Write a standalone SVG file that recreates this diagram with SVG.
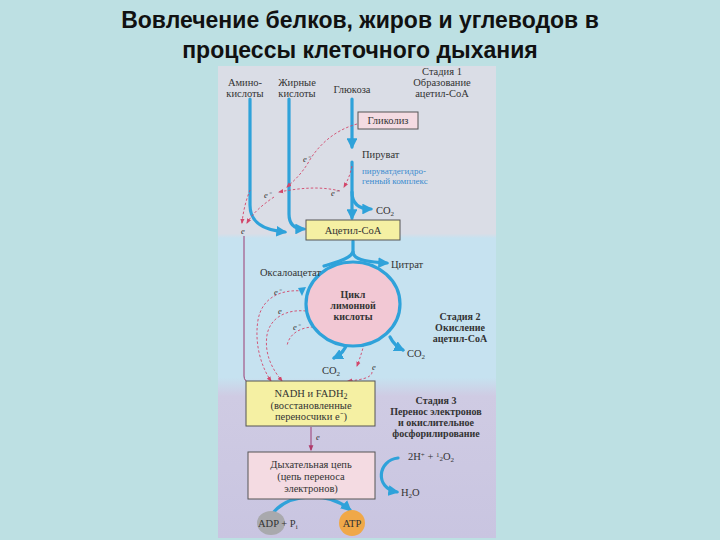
<svg xmlns="http://www.w3.org/2000/svg" width="720" height="540" viewBox="0 0 720 540">
<defs>
<linearGradient id="panelGrad" x1="0" y1="0" x2="0" y2="1">
<stop offset="0" stop-color="#dadde6"/>
<stop offset="0.355" stop-color="#dadde6"/>
<stop offset="0.365" stop-color="#c6e2f0"/>
<stop offset="0.66" stop-color="#c6e2f0"/>
<stop offset="0.70" stop-color="#cfcbe3"/>
<stop offset="1" stop-color="#c9c5e1"/>
</linearGradient>
<marker id="ab" viewBox="0 0 10 10" refX="8" refY="5" markerWidth="3.4" markerHeight="3.4" orient="auto"><path d="M0,0 L10,5 L0,10 z" fill="#2fa2da"/></marker>
<marker id="ar" viewBox="0 0 10 10" refX="8" refY="5" markerWidth="6" markerHeight="6" orient="auto"><path d="M0,1 L10,5 L0,9 z" fill="#d2466a"/></marker>
<marker id="ap" viewBox="0 0 10 10" refX="8" refY="5" markerWidth="6" markerHeight="6" orient="auto"><path d="M0,1 L10,5 L0,9 z" fill="#b03a6a"/></marker>
</defs>
<style>
.title{font-family:"Liberation Sans",Arial,sans-serif;font-weight:bold;font-size:23px;fill:#111;text-anchor:middle}
.t{font-family:"Liberation Serif","Times New Roman",serif;font-size:10.5px;fill:#333}
.tc{font-family:"Liberation Serif","Times New Roman",serif;font-size:10.5px;fill:#333;text-anchor:middle}
.tb{font-family:"Liberation Serif","Times New Roman",serif;font-size:10px;font-weight:bold;fill:#333;text-anchor:middle}
.tblue{font-family:"Liberation Serif","Times New Roman",serif;font-size:9px;fill:#3a8ccf}
.e{font-family:"Liberation Serif","Times New Roman",serif;font-size:8.5px;font-style:italic;fill:#333}
.blue{fill:none;stroke:#2fa2da;stroke-width:3.2;stroke-linecap:round}
.red{fill:none;stroke:#d2466a;stroke-width:0.9;stroke-dasharray:2.5,2}
.pur{fill:none;stroke:#9a3a72;stroke-width:1}
.ybox{fill:#f5f0a3;stroke:#555;stroke-width:1}
.pbox{fill:#f4dbe2;stroke:#555;stroke-width:1}
</style>
<rect width="720" height="540" fill="#bde0e3"/>
<rect id="panel" x="218" y="66" width="278" height="472" fill="url(#panelGrad)"/>
<text class="title" x="360" y="28">Вовлечение белков, жиров и углеводов в</text>
<text class="title" x="360" y="58">процессы клеточного дыхания</text>

<g id="connectors">
<path class="blue" d="M250,99 V205 C250,222 262,230 285,232" marker-end="url(#ab)"/>
<path class="blue" d="M289,99 V214 C289,225 295,229 304,229" marker-end="url(#ab)"/>
<path class="blue" d="M352,99 V147" marker-end="url(#ab)"/>
<path class="blue" d="M352,162 V218" marker-end="url(#ab)"/>
<path class="blue" d="M352,192 C352,205 360,209 371,209" marker-end="url(#ab)"/>
<path class="blue" d="M353,241 V252 C353,259 365,262 387,263" marker-end="url(#ab)"/>
<path class="blue" d="M353,252 C350,259 336,262 324,266"/>
<path class="blue" d="M347,343 C345,351 340,355 334,358" marker-end="url(#ab)"/>
<path class="blue" d="M390,337 C393,343 397,347 403,350" marker-end="url(#ab)"/>
<path class="blue" d="M398,458 C378,460 374,488 397,492" marker-end="url(#ab)"/>
<path class="blue" d="M273,513 C290,492 330,492 350,510" marker-end="url(#ab)"/>
<path class="red" d="M357,124 C335,130 318,145 308,163 C302,173 295,180 287,187" marker-end="url(#ar)"/>
<path class="red" d="M352,166 C350,175 348,180 344,187" marker-end="url(#ar)"/>
<path class="red" d="M340,191 C320,186 300,188 279,192" marker-end="url(#ar)"/>
<path class="red" d="M274,197 C262,205 252,214 247,223" marker-end="url(#ar)"/>
<path class="red" d="M250,190 C246,200 243,212 242,223" marker-end="url(#ar)"/>
<path class="pur" d="M244,236 V376 C244,383 252,385 266,386" marker-end="url(#ap)"/>
<path class="red" d="M303,291 C280,289 262,298 258,320 C254,345 262,368 271,381" marker-end="url(#ar)"/>
<path class="red" d="M306,311 C286,309 270,318 267,335 C264,355 273,370 282,381" marker-end="url(#ar)"/>
<path class="red" d="M318,327 C302,326 289,333 287,346" />
<path class="red" d="M364,344 C362,352 360,358 357,366" marker-end="url(#ar)"/>
<path class="red" d="M372,372 C372,378 360,380 348,381" marker-end="url(#ar)"/>
<path class="pur" d="M311,427 V450" marker-end="url(#ap)"/>
<path d="M306,287 L302,296 L298,288 z" fill="#2fa2da"/>
</g>

<g id="node-krebs">
<ellipse cx="353" cy="304" rx="47" ry="42" fill="#f2c8d4" stroke="#2fa2da" stroke-width="3.2"/>
<text class="tb" x="353" y="298">Цикл</text>
<text class="tb" x="353" y="309">лимонной</text>
<text class="tb" x="353" y="320">кислоты</text>
</g>

<g id="labels">
<text class="tc" x="245" y="86">Амино-</text>
<text class="tc" x="245" y="97">кислоты</text>
<text class="tc" x="297" y="86">Жирные</text>
<text class="tc" x="297" y="97">кислоты</text>
<text class="tc" x="352" y="93">Глюкоза</text>
<text class="tc" x="442" y="75" font-size="11">Стадия 1</text>
<text class="tc" x="442" y="86" font-size="11">Образование</text>
<text class="tc" x="442" y="97" font-size="11">ацетил-CoA</text>
<text class="t" x="362" y="158">Пируват</text>
<text class="tblue" x="362" y="174">пируватдегидро-</text>
<text class="tblue" x="362" y="184">генный комплекс</text>
<text class="t" x="376" y="214">CO<tspan font-size="7" dy="2">2</tspan></text>
<text class="t" x="391" y="268">Цитрат</text>
<text class="t" x="260" y="276">Оксалоацетат</text>
<text class="tb" x="460" y="320">Стадия 2</text>
<text class="tb" x="460" y="331">Окисление</text>
<text class="tb" x="460" y="342">ацетил-CoA</text>
<text class="t" x="407" y="357">CO<tspan font-size="7" dy="2">2</tspan></text>
<text class="t" x="322" y="374">CO<tspan font-size="7" dy="2">2</tspan></text>
<text class="tb" x="436" y="404" font-size="11">Стадия 3</text>
<text class="tb" x="436" y="415" font-size="11">Перенос электронов</text>
<text class="tb" x="436" y="426" font-size="11">и окислительное</text>
<text class="tb" x="436" y="437" font-size="11">фосфорилирование</text>
<text class="t" x="408" y="460">2H<tspan font-size="7" dy="-3">+</tspan><tspan dy="3"> + </tspan><tspan font-size="7" dy="-3">1</tspan><tspan font-size="7" dy="4">2</tspan><tspan dy="-1">O</tspan><tspan font-size="7" dy="2">2</tspan></text>
<text class="t" x="401" y="496">H<tspan font-size="7" dy="2">2</tspan><tspan dy="-2">O</tspan></text>
</g>

<g id="e-labels">
<text class="e" x="303" y="162">e⁻</text>
<text class="e" x="331" y="196">e⁻</text>
<text class="e" x="264" y="198">e⁻</text>
<text class="e" x="241" y="234">e</text>
<text class="e" x="274" y="295">e⁻</text>
<text class="e" x="278" y="314">e</text>
<text class="e" x="293" y="330">e⁻</text>
<text class="e" x="372" y="370">e</text>
<text class="e" x="316" y="440">e</text>
</g>

<g id="node-glycolysis">
<rect class="pbox" x="358" y="112" width="60" height="17"/>
<text class="tc" x="388" y="124">Гликолиз</text>
</g>

<g id="node-acetylcoa">
<rect class="ybox" x="306" y="220" width="94" height="20"/>
<text class="tc" x="353" y="234" font-size="12">Ацетил-CoA</text>
</g>

<g id="node-nadh">
<rect class="ybox" x="246" y="381" width="129" height="45"/>
<text class="tc" x="311" y="397" font-size="13">NADH и FADH<tspan font-size="8" dy="2">2</tspan></text>
<text class="tc" x="311" y="409" font-size="11.5">(восстановленные</text>
<text class="tc" x="311" y="420" font-size="11.5">переносчики e⁻)</text>
</g>

<g id="node-chain">
<rect class="pbox" x="248" y="452" width="127" height="47"/>
<text class="tc" x="311" y="468" font-size="11.5">Дыхательная цепь</text>
<text class="tc" x="311" y="480" font-size="11.5">(цепь переноса</text>
<text class="tc" x="311" y="492" font-size="11.5">электронов)</text>
</g>

<g id="node-adp">
<ellipse cx="271" cy="523" rx="14" ry="12" fill="#a9a9ad"/>
<text class="t" x="258" y="527">ADP + P<tspan font-size="7" dy="2">i</tspan></text>
</g>

<g id="node-atp">
<circle cx="352" cy="523" r="13" fill="#f0a848"/>
<text class="tc" x="352" y="527">ATP</text>
</g>
</svg>
